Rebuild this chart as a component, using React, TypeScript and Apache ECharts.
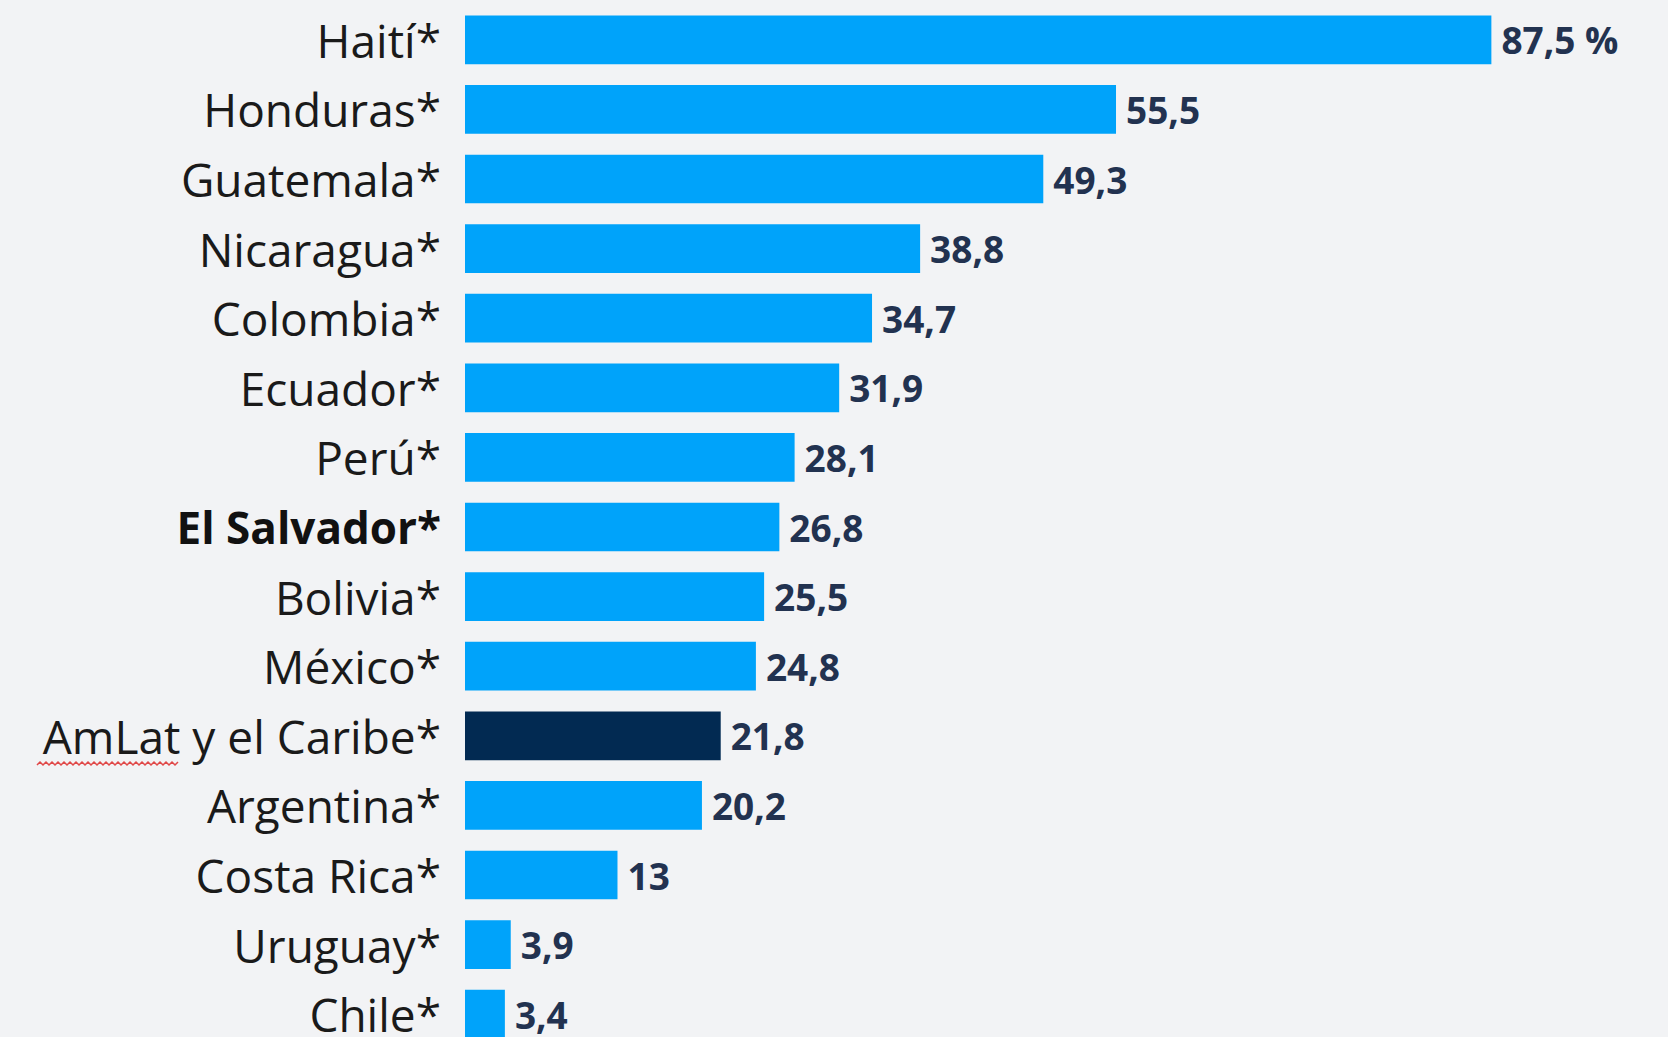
import React, { useEffect, useRef } from "react";
import * as echarts from "echarts";

const categories = [
  "Haití*", "Honduras*", "Guatemala*", "Nicaragua*", "Colombia*", "Ecuador*", "Perú*",
  "El Salvador*", "Bolivia*", "México*", "AmLat y el Caribe*", "Argentina*", "Costa Rica*",
  "Uruguay*", "Chile*",
];
const values = [87.5, 55.5, 49.3, 38.8, 34.7, 31.9, 28.1, 26.8, 25.5, 24.8, 21.8, 20.2, 13, 3.9, 3.4];
const boldCategory = "El Salvador*";
const highlightCategory = "AmLat y el Caribe*";

const BLUE = "#00A3FA";
const NAVY = "#022A52";

function squiggle(x0: number, x1: number, y: number) {
  const pts: number[][] = [];
  let up = false;
  for (let x = x0; x <= x1; x += 3) {
    pts.push([x, up ? y - 3 : y]);
    up = !up;
  }
  return pts;
}

export default function App() {
  const ref = useRef<HTMLDivElement>(null);
  useEffect(() => {
    if (!ref.current) return;
    const chart = echarts.init(ref.current, null, { renderer: "svg" });
    chart.setOption({
      animation: false,
      backgroundColor: "#F2F3F5",
      grid: { left: 465, right: 30, top: 5, bottom: 1, containLabel: false },
      xAxis: {
        type: "value",
        min: 0,
        max: 100,
        show: false,
      },
      yAxis: {
        type: "category",
        inverse: true,
        data: categories,
        axisLine: { show: false },
        axisTick: { show: false },
        splitLine: { show: false },
        axisLabel: {
          margin: 24,
          fontFamily: "Open Sans",
          fontSize: 46,
          color: "#1A1A1A",
          formatter: (v: string) => (v === boldCategory ? `{b|${v}}` : v),
          rich: {
            b: { fontFamily: "Open Sans", fontSize: 44, fontWeight: "bold", color: "#111111" },
          },
        },
      },
      series: [
        {
          type: "bar",
          barCategoryGap: "30%",
          data: categories.map((c, i) => ({
            value: values[i],
            itemStyle: { color: c === highlightCategory ? NAVY : BLUE },
          })),
          label: {
            show: true,
            position: "right",
            distance: 10,
            fontFamily: "Open Sans",
            fontWeight: "bold",
            fontSize: 37,
            color: "#223250",
            formatter: (p: any) => {
              const s = String(p.value).replace(".", ",");
              return p.dataIndex === 0 ? `${s} %` : s;
            },
          },
        },
      ],
      graphic: [
        {
          type: "polyline",
          shape: { points: squiggle(37, 178, 765) },
          style: { stroke: "#E04848", lineWidth: 1.5, fill: "none" },
          z: 10,
        },
      ],
    });
    return () => chart.dispose();
  }, []);
  return (
    <div style={{ position: "absolute", left: 0, top: 0, width: 1668, height: 1037, overflow: "hidden" }}>
      <div ref={ref} style={{ width: 1668, height: 1050 }} />
    </div>
  );
}
